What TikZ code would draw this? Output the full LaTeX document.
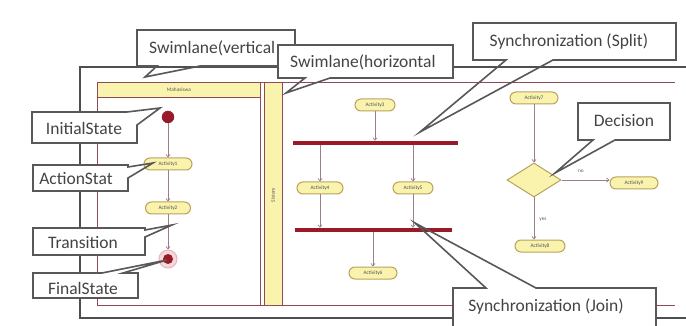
\documentclass[tikz,border=0pt]{standalone}
\usepackage{fontspec}
\setmainfont{Carlito}
\usetikzlibrary{arrows.meta,shapes.geometric}
\definecolor{lanered}{HTML}{8E4B55}
\definecolor{barred}{HTML}{9A1A28}
\definecolor{actfill}{HTML}{FAF3AE}
\definecolor{actdraw}{HTML}{B9A35C}
\definecolor{flow}{HTML}{9A7F8C}
\definecolor{calldraw}{HTML}{585858}
\definecolor{calltext}{HTML}{444444}
\definecolor{framegray}{HTML}{4F4F4F}
\definecolor{ringpink}{HTML}{E9B4B8}
\begin{document}
\begin{tikzpicture}[x=1pt,y=-1pt,
  act/.style={rectangle,rounded corners=6pt,minimum height=12pt,inner sep=0pt,
    fill=actfill,draw=actdraw,line width=1pt,text=black!70,
    font=\fontsize{5.3}{6}\selectfont},
  flowline/.style={draw=flow,line width=0.7pt,-{Straight Barb[length=2.5pt,width=4pt]}},
  syncbar/.style={rectangle,fill=barred,draw=none,minimum height=4pt,inner sep=0pt},
  lane/.style={draw=lanered,line width=0.8pt},
  callline/.style={draw=calldraw,line width=1.6pt,line join=miter},
  calltxt/.style={text=calltext,font=\fontsize{17.5}{19}\selectfont,inner sep=0pt},
  tiny/.style={text=black!65,font=\fontsize{5.3}{6}\selectfont,inner sep=0pt}]
\useasboundingbox (0,0) rectangle (686,326);
\fill[white] (0,0) rectangle (686,326);

% outer dark frame
\draw[framegray,line width=2.2pt] (686,67) -- (80,67) -- (80,318) -- (686,318);

% swimlanes
\draw[lane] (675,82) -- (97,82) -- (97,305) -- (675,305);
\draw[lane] (260,82) -- (260,305);
\node[lane,fill=actfill,rectangle,minimum width=163pt,minimum height=15pt,inner sep=0pt,
  anchor=north west,tiny] (lanem) at (97,82) {Mahasiswa};
\node[lane,fill=actfill,rectangle,minimum width=18pt,minimum height=223pt,inner sep=0pt,
  anchor=north west] (lanes) at (264,82) {};
\node[tiny,rotate=90] (lanestxt) at (273,195) {Sistem};

% left column
\node[circle,fill=barred,draw=barred!80!black,minimum size=12pt,inner sep=0pt] (init) at (168,117) {};
\node[act,minimum width=48pt] (a1) at (168,164) {Activity1};
\node[act,minimum width=45pt] (a2) at (168,208) {Activity2};
\node[circle,fill=ringpink!50,draw=ringpink,line width=1pt,minimum size=18pt,inner sep=0pt] (final) at (168,259) {};
\node[circle,fill=barred,minimum size=10pt,inner sep=0pt] (finaldot) at (168,259) {};
\draw[flowline] (init) -- (a1);
\draw[flowline] (a1) -- (a2);
\draw[flowline] (a2) -- (final);

% fork / join
\node[act,minimum width=40pt] (a3) at (375,105) {Activity3};
\node[syncbar,minimum width=165pt] (split) at (375.5,143) {};
\node[act,minimum width=46pt] (a4) at (320,188) {Activity4};
\node[act,minimum width=40pt] (a5) at (413,188) {Activity5};
\node[syncbar,minimum width=157pt] (join) at (373.5,230) {};
\node[act,minimum width=48pt] (a6) at (373,273) {Activity6};
\draw[flowline] (a3) -- (a3 |- split.north);
\draw[flowline] (a4 |- split.south) -- (a4.north);
\draw[flowline] (a5 |- split.south) -- (a5.north);
\draw[flowline] (a4.south) -- (a4 |- join.north);
\draw[flowline] (a5.south) -- (a5 |- join.north);
\draw[flowline] (a6 |- join.south) -- (a6.north);

% decision
\node[act,minimum width=48pt] (a7) at (534,98) {Activity7};
\node[diamond,fill=actfill,draw=actdraw,line width=1pt,minimum width=54pt,minimum height=34pt,inner sep=0pt] (dec) at (534,180) {};
\node[act,minimum width=48pt] (a9) at (634,183) {Activity9};
\node[act,minimum width=50pt] (a8) at (540,246) {Activity8};
\draw[flowline] (a7) -- (dec.north);
\draw[flowline] (dec.east) -- (dec.east -| a9.west);
\draw[flowline] (dec.south) -- (dec.south |- a8.north);
\node[tiny] (nolbl) at (581,171) {no};
\node[tiny] (yeslbl) at (543,220) {yes};

% callouts
% Swimlane(vertical
\fill[white] (137,30) rectangle (295,66);
\draw[callline] (137,30) -- (295,30) -- (295,66) -- (200,66) -- (145,77) -- (157,66) -- (137,66) -- cycle;
\node[calltxt,anchor=west] (cv) at (149,48) {Swimlane(vertical};
% Swimlane(horizontal
\fill[white] (278,45) rectangle (453,78);
\draw[callline] (278,45) -- (453,45) -- (453,78) -- (330,78) -- (286,93) -- (305,78) -- (278,78) -- cycle;
\node[calltxt,anchor=west] (ch) at (290,62) {Swimlane(horizontal};
% Synchronization (Split)
\fill[white] (473,23) rectangle (676,60);
\draw[callline] (473,23) -- (676,23) -- (676,60) -- (553,60) -- (420,132) -- (506,60) -- (473,60) -- cycle;
\node[calltxt] (csplit) at (569,42) {Synchronization (Split)};
% Decision
\fill[white] (578,103) rectangle (670,140);
\draw[callline] (578,103) -- (670,103) -- (670,140) -- (615,140) -- (555,173) -- (593,140) -- (578,140) -- cycle;
\node[calltxt] (cdec) at (624,121) {Decision};
% InitialState
\fill[white] (32,112) rectangle (137,143);
\draw[callline] (32,112) -- (127,112) -- (160,108) -- (137,125) -- (137,143) -- (32,143) -- cycle;
\node[calltxt] (cinit) at (84,128) {InitialState};
% ActionStat
\fill[white] (33,165) rectangle (128,191);
\draw[callline] (33,165) -- (128,165) -- (128,167) -- (153,163) -- (128,178) -- (128,191) -- (33,191) -- cycle;
\node[calltxt] (cact) at (76,179) {ActionStat};
% Transition
\fill[white] (33,228) rectangle (145,255);
\draw[callline] (33,228) -- (145,228) -- (145,230) -- (172,225) -- (145,237) -- (145,255) -- (33,255) -- cycle;
\node[calltxt] (ctrans) at (83,243) {Transition};
% FinalState
\fill[white] (33,273) rectangle (138,298);
\draw[callline] (33,273) -- (102,273) -- (167,260) -- (123,273) -- (138,273) -- (138,298) -- (33,298) -- cycle;
\node[calltxt] (cfinal) at (83,288) {FinalState};
% Synchronization (Join)
\fill[white] (453,288) rectangle (656,330);
\draw[callline] (453,330) -- (453,288) -- (486,288) -- (415,223) -- (536,288) -- (656,288) -- (656,330);
\node[calltxt] (cjoin) at (546,307) {Synchronization (Join)};
\end{tikzpicture}
\end{document}
